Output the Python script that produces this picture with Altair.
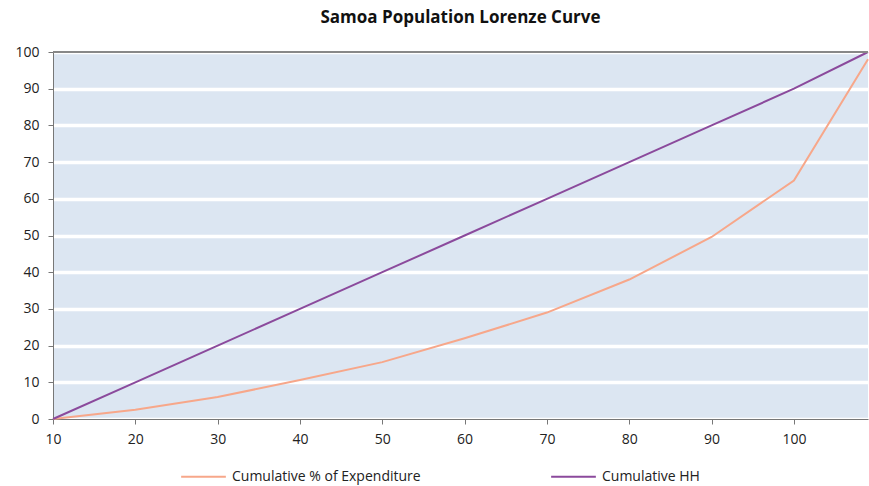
import altair as alt
import pandas as pd

x_vals = [10, 20, 30, 40, 50, 60, 70, 80, 90, 100, 109]
expenditure = [0, 2.5, 6, 10.6, 15.5, 22, 29, 38, 49.6, 65, 98]
households = [0, 10, 20, 30, 40, 50, 60, 70, 80, 90, 100]
series_names = ["Cumulative % of Expenditure", "Cumulative HH"]
series_colors = ["#F7A78A", "#8B4A9C"]
x_ticks = [10, 20, 30, 40, 50, 60, 70, 80, 90, 100]
y_ticks = [0, 10, 20, 30, 40, 50, 60, 70, 80, 90, 100]

rows = []
for xv, e, h in zip(x_vals, expenditure, households):
    rows.append({"x": xv, "y": e, "series": series_names[0]})
    rows.append({"x": xv, "y": h, "series": series_names[1]})
df = pd.DataFrame(rows)

FONT = "Open Sans"

y_scale = alt.Scale(domain=[0, 100], nice=False)
y_axis = alt.Axis(values=y_ticks, title=None, grid=True, gridColor="white",
                  gridWidth=3.5, tickSize=5, labelPadding=9, labelFontSize=14,
                  labelColor="#222", domainColor="#777", tickColor="#777",
                  labelFont=FONT, labelFlush=False)

lines = alt.Chart(df).mark_line(strokeWidth=2).encode(
    x=alt.X("x:Q", scale=alt.Scale(domain=[10, 109], nice=False, zero=False),
            axis=alt.Axis(values=x_ticks, title=None, grid=False, tickSize=5,
                          labelPadding=8, labelFontSize=14, labelColor="#222",
                          domainColor="#777", tickColor="#777", labelFont=FONT,
                          labelFlush=False)),
    y=alt.Y("y:Q", scale=y_scale, axis=y_axis),
    color=alt.Color("series:N", scale=alt.Scale(domain=series_names, range=series_colors),
                    legend=alt.Legend(title=None, orient="none", direction="horizontal",
                                      legendX=127, legendY=401, symbolType="stroke",
                                      symbolSize=2000, symbolStrokeWidth=2,
                                      labelFontSize=14, labelFont=FONT, labelColor="#222",
                                      labelLimit=0, columnPadding=126, labelOffset=5)),
)

top_border = alt.Chart(pd.DataFrame({"y": [100]})).mark_rule(color="#888", strokeWidth=2).encode(
    y=alt.Y("y:Q", scale=y_scale, axis=y_axis)
)

chart = alt.layer(lines, top_border).properties(
    width=815, height=367,
    title=alt.TitleParams("Samoa Population Lorenze Curve", fontSize=17, font=FONT,
                          fontWeight="bold", color="#111", offset=18, anchor="middle"),
    autosize=alt.AutoSizeParams(type="none"),
    padding={"left": 53, "top": 52, "right": 1, "bottom": 67},
    background="white",
).configure_view(fill="#DCE6F2", stroke=None)

chart.save("out.html", embed_options={"renderer": "svg", "actions": False})
